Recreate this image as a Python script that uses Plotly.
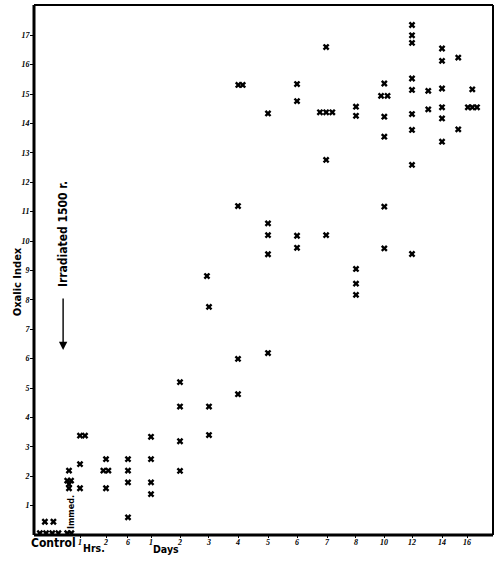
import plotly.graph_objects as go

# ---- data ----
time_points = ["Control", "Immed.", "1 hr", "2 hr", "6 hr", "1 day", "2 days", "3 days",
               "4 days", "5 days", "6 days", "7 days", "8 days", "10 days", "12 days",
               "13 days", "14 days", "15 days", "16 days"]
# position of each time point along the (non-uniform) time axis
axis_pos = [0.52, 1.19, 1.565, 2.449, 3.197, 3.98, 4.966, 5.952, 6.939, 7.959,
            8.946, 9.966, 10.952, 11.905, 12.857, 13.41, 13.878, 14.43, 14.728]

oxalic_index = {
    "Control": [0.06, 0.06, 0.06, 0.06, 0.45, 0.45],
    "Immed.": [2.19, 1.85, 1.85, 1.73, 1.59, 0.06, 0.06],
    "1 hr": [3.38, 3.38, 2.41, 1.59],
    "2 hr": [2.58, 2.19, 2.19, 1.59],
    "6 hr": [2.58, 2.19, 1.79, 0.60],
    "1 day": [3.34, 2.58, 1.79, 1.39],
    "2 days": [5.20, 4.37, 3.19, 2.18],
    "3 days": [8.81, 7.76, 4.37, 3.40],
    "4 days": [15.31, 15.31, 11.19, 5.99, 4.79],
    "5 days": [14.34, 10.60, 10.20, 9.55, 6.19],
    "6 days": [15.34, 14.76, 10.18, 9.77],
    "7 days": [16.60, 14.38, 14.38, 14.38, 12.76, 10.20],
    "8 days": [14.57, 14.26, 9.05, 8.55, 8.17],
    "10 days": [15.36, 14.94, 14.94, 14.23, 13.55, 11.17, 9.75],
    "12 days": [17.35, 17.00, 16.74, 15.53, 15.14, 14.32, 13.78, 12.59, 9.56],
    "13 days": [15.11, 14.48],
    "14 days": [16.55, 16.13, 15.19, 14.55, 14.17, 13.38],
    "15 days": [16.24, 13.80],
    "16 days": [15.16, 14.55, 14.55, 14.55],
}
# small side-by-side offsets of overlapping crosses within a time point
point_offset = {
    "Control": [-0.32, -0.11, 0.10, 0.31, -0.15, 0.14],
    "Immed.": [0.0, -0.06, 0.07, 0.0, 0.0, -0.06, 0.08],
    "1 hr": [0.0, 0.17, 0.0, 0.0],
    "2 hr": [0.0, -0.09, 0.08, 0.0],
    "3 days": [-0.07, 0.0, 0.0, 0.0],
    "4 days": [0.01, 0.16, 0.0, 0.0, 0.0],
    "7 days": [-0.03, -0.24, -0.03, 0.18, -0.03, -0.03],
    "10 days": [0.01, -0.10, 0.12, 0.01, 0.01, 0.01, 0.01],
    "16 days": [0.18, 0.03, 0.18, 0.34],
}

x_tick_vals = [1.565, 2.449, 3.197, 3.98, 4.966, 5.952, 6.939, 7.959, 8.946,
               9.966, 10.952, 11.905, 12.857, 13.878, 14.728]
x_tick_text = ["1", "2", "6", "1", "2", "3", "4", "5", "6", "7", "8", "10", "12", "14", "16"]
y_tick_vals = list(range(1, 18))
y_tick_text = [str(v) for v in y_tick_vals]

# ---- build point lists ----
xs, ys = [], []
for tp, pos in zip(time_points, axis_pos):
    vals = oxalic_index[tp]
    offs = point_offset.get(tp, [0.0] * len(vals))
    for v, o in zip(vals, offs):
        xs.append(pos + o)
        ys.append(v)

fig = go.Figure()
fig.add_trace(go.Scatter(
    x=xs, y=ys, mode="markers",
    marker=dict(symbol="x", size=6, color="black", line=dict(width=0)),
    showlegend=False, hoverinfo="skip"))

label_font = dict(family="Liberation Sans Narrow, DejaVu Sans Condensed, Arial Narrow, sans-serif",
                  size=12, color="black", weight="bold")
tick_font = dict(family="Liberation Serif, DejaVu Serif, serif", size=8, color="black",
                 style="italic", weight="bold")

fig.update_layout(
    width=500, height=569,
    margin=dict(l=34, r=7, t=5, b=34),
    paper_bgcolor="white", plot_bgcolor="white",
    xaxis=dict(range=[0, 15.612], showgrid=False, zeroline=False, showline=False,
               tickmode="array", tickvals=x_tick_vals, ticktext=x_tick_text,
               ticks="outside", ticklen=2, tickwidth=1, tickcolor="black",
               ticklabelstandoff=-3,
               tickfont=tick_font, fixedrange=True),
    yaxis=dict(range=[0, 18.03], showgrid=False, zeroline=False, showline=False,
               tickmode="array", tickvals=y_tick_vals, ticktext=y_tick_text,
               ticks="outside", ticklen=3, tickwidth=1, tickcolor="black",
               ticklabelstandoff=-1,
               tickfont=tick_font, fixedrange=True),
    shapes=[
        dict(type="line", xref="paper", yref="paper", x0=0, x1=0, y0=0, y1=1,
             line=dict(color="black", width=3)),
        dict(type="line", xref="paper", yref="paper", x0=0, x1=1, y0=0, y1=0,
             line=dict(color="black", width=3)),
        dict(type="line", xref="paper", yref="paper", x0=0, x1=1, y0=1, y1=1,
             line=dict(color="black", width=2)),
        dict(type="line", xref="paper", yref="paper", x0=1, x1=1, y0=0, y1=1,
             line=dict(color="black", width=2)),
    ],
)

annotations = [
    dict(text="Oxalic Index", xref="paper", yref="y", x=-0.037, y=8.6,
         xanchor="center", yanchor="middle",
         textangle=-90, showarrow=False, font=dict(label_font, size=11)),
    dict(text="Irradiated 1500 r.", xref="x", yref="y", x=0.99, y=10.24,
         xanchor="center", yanchor="middle",
         textangle=-90, showarrow=False, font=dict(label_font, size=12)),
    dict(text="", xref="x", yref="y", x=0.99, y=6.29, ax=0, ay=-53,
         showarrow=True, arrowhead=2, arrowsize=1.2, arrowwidth=1.4, arrowcolor="black"),
    dict(text="Immed.", xref="x", yref="y", x=1.26, y=0.78, textangle=-90,
         xanchor="center", yanchor="middle",
         showarrow=False, font=dict(label_font, size=9)),
    dict(text="Control", xref="x", yref="paper", x=0.68, y=-0.016, yanchor="middle",
         xanchor="center", showarrow=False, font=label_font),
    dict(text="Hrs.", xref="x", yref="paper", x=2.04, y=-0.025, yanchor="middle",
         xanchor="center", showarrow=False, font=dict(label_font, size=10.5)),
    dict(text="Days", xref="x", yref="paper", x=4.48, y=-0.027, yanchor="middle",
         xanchor="center", showarrow=False, font=dict(label_font, size=10.5)),
]
fig.update_layout(annotations=annotations)

fig.write_html("out.html")
